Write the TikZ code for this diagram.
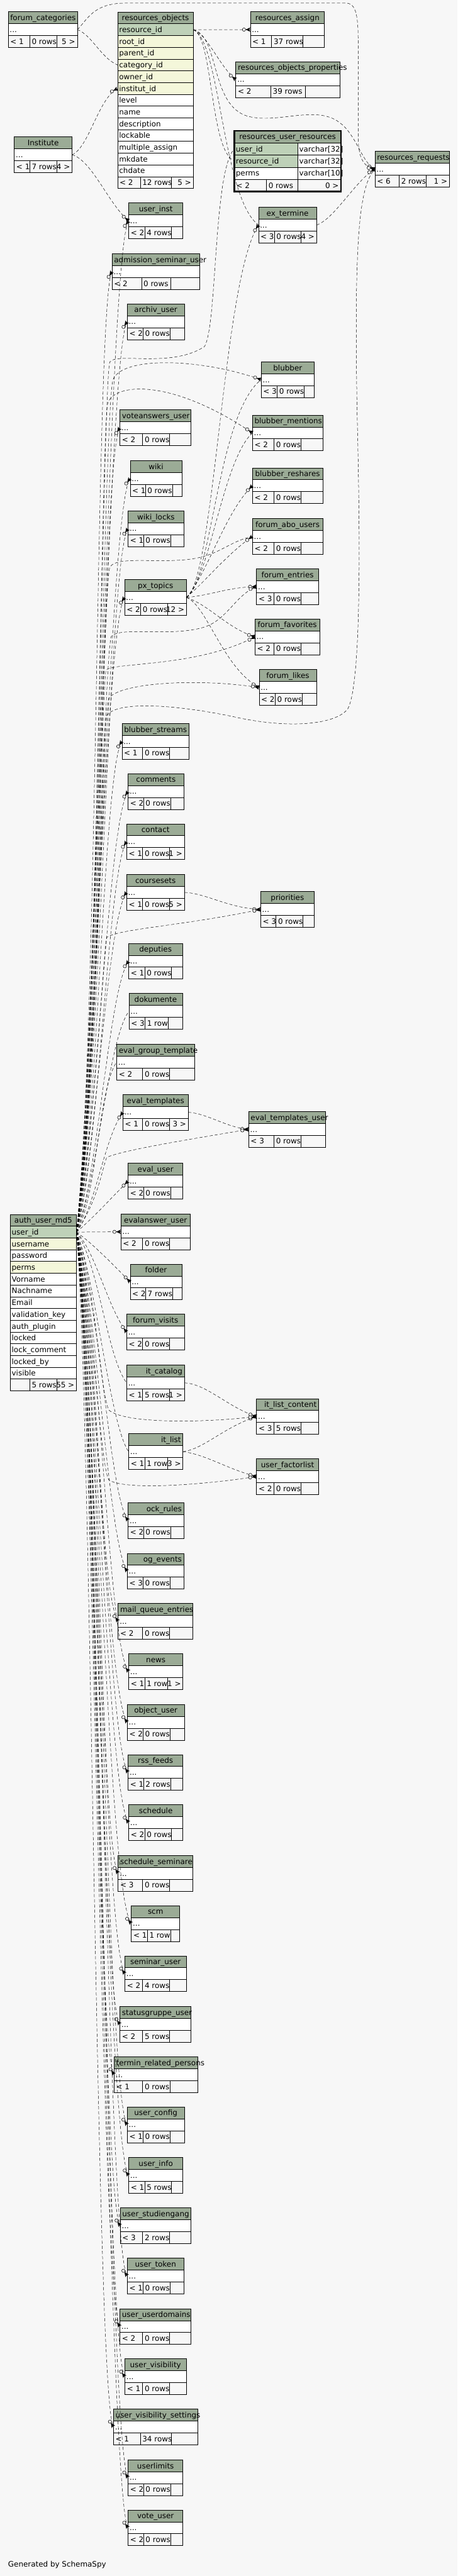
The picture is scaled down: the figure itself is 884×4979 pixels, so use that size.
\documentclass[tikz,border=0pt]{standalone}
\usepackage{fontspec}
\setmainfont{DejaVu Sans}
\usetikzlibrary{decorations.markings}
\definecolor{bgc}{HTML}{F7F7F7}
\definecolor{hdrc}{HTML}{9BAB96}
\definecolor{pkc}{HTML}{BED1B8}
\definecolor{fkc}{HTML}{F4F7DA}
\newcommand\tfont{\fontsize{14.5}{17}\selectfont}
\newcommand\crowmark{%
  \fill[solid] (-9,0) -- (0,4.2) -- (-2,0) -- (0,-4.2) -- cycle;
  \draw[solid, line width=0.6pt] (-9,0) -- (0,0);
  \draw[solid, line width=0.7pt, fill=bgc] (-12.3,0) circle (3.2);}
\tikzset{
  ft/.style={font=\tfont, inner sep=0pt, outer sep=0pt, text height=10.6pt, text depth=0pt},
  tbox/.style={draw, line width=0.9pt, rectangle, inner sep=0pt, outer sep=0pt, anchor=north west, minimum height=69pt},
  rowbox/.style={draw, line width=0.9pt, rectangle, inner sep=0pt, outer sep=0pt, anchor=north west},
  tline/.style={line width=0.9pt},
  rel/.style={line width=0.6pt, dash pattern=on 6pt off 4pt,
    postaction={decorate, decoration={markings, mark=at position 1 with {\crowmark}}}},
}
% compact table: name, x1, x2, ytop, title, div1, div2, {left}{mid}{right}
\newcommand\ctab[8]{%
  \fill[hdrc] (#2,{-(#4)}) rectangle (#3,{-(#4)-23});
  \fill[white] (#2,{-(#4)-23}) rectangle (#3,{-(#4)-46});
  \draw[tline] (#2,{-(#4)-23}) -- (#3,{-(#4)-23});
  \draw[tline] (#2,{-(#4)-46}) -- (#3,{-(#4)-46});
  \draw[tline] (#6,{-(#4)-46}) -- (#6,{-(#4)-69});
  \draw[tline] (#7,{-(#4)-46}) -- (#7,{-(#4)-69});
  \node[tbox, minimum width=#3-#2] (#1) at (#2,{-(#4)}) {};
  \node[ft, anchor=west] at (#2,{-(#4)-11.5}) {\hbox to \dimexpr#3pt-#2pt\relax{\hskip 4pt plus 1fil #5\hskip 4pt plus 1fil}};
  \node[ft, anchor=west] at (#2+3,{-(#4)-34.5}) {...};
  \def\fxa{#2}\def\fxb{#3}\def\fy{#4}\def\fda{#6}%
  \ftr#8%
}
\newcommand\ftr[3]{%
  \node[ft, anchor=west] at (\fxa+4,{-(\fy)-57.5}) {#1};
  \node[ft, anchor=west] at (\fda+4,{-(\fy)-57.5}) {#2};
  \node[ft, anchor=east] at (\fxb-4,{-(\fy)-57.5}) {#3};
}
% full table row: name, x1, x2, ytop, height, fill, text
\newcommand\trow[7]{%
  \node[rowbox, fill=#6, minimum width=#3-#2, minimum height=#5] (#1) at (#2,{-(#4)}) {};
  \node[ft, anchor=west, xshift=3pt] at (#1.west) {#7};}
\newcommand\thead[6]{%
  \node[rowbox, fill=hdrc, minimum width=#3-#2, minimum height=#5] (#1) at (#2,{-(#4)}) {};
  \node[ft, anchor=west] at (#1.west) {\hbox to \dimexpr#3pt-#2pt\relax{\hskip 4pt plus 1fil #6\hskip 4pt plus 1fil}};}
\newcommand\aup[4]{\draw[rel] (auuid.east) .. controls +(#2,#3) and +(-#4,-50) .. (#1.west);}
\newcommand\adn[4]{\draw[rel] (auuid.east) .. controls +(#2,-#3) and +(-#4,50) .. (#1.west);}

\begin{document}
\begin{tikzpicture}[x=1pt,y=1pt]
\fill[bgc] (0,0) rectangle (884,-4979);
\useasboundingbox (0,0) rectangle (884,-4979);

% ---------- resources_objects ----------
\thead{roH}{227.2}{373.3}{23.3}{22.73}{resources\_objects}
\trow{roRid}{227.2}{373.3}{46.03}{22.73}{pkc}{resource\_id}
\trow{roRoot}{227.2}{373.3}{68.76}{22.73}{fkc}{root\_id}
\trow{roPar}{227.2}{373.3}{91.49}{22.73}{fkc}{parent\_id}
\trow{roCat}{227.2}{373.3}{114.22}{22.73}{fkc}{category\_id}
\trow{roOwn}{227.2}{373.3}{136.95}{22.73}{fkc}{owner\_id}
\trow{roInst}{227.2}{373.3}{159.68}{22.73}{fkc}{institut\_id}
\trow{roLev}{227.2}{373.3}{182.41}{22.73}{white}{level}
\trow{roName}{227.2}{373.3}{205.14}{22.73}{white}{name}
\trow{roDesc}{227.2}{373.3}{227.87}{22.73}{white}{description}
\trow{roLock}{227.2}{373.3}{250.6}{22.73}{white}{lockable}
\trow{roMul}{227.2}{373.3}{273.33}{22.73}{white}{multiple\_assign}
\trow{roMk}{227.2}{373.3}{296.06}{22.73}{white}{mkdate}
\trow{roCh}{227.2}{373.3}{318.79}{22.73}{white}{chdate}
\node[rowbox, minimum width=146.1, minimum height=22.73] (roF) at (227.2,-341.52) {};
\draw[tline] (271.2,-341.52) -- (271.2,-364.25);
\draw[tline] (331.5,-341.52) -- (331.5,-364.25);
\node[ft, anchor=west] at (231.2,-352.9) {< 2};
\node[ft, anchor=west] at (275.2,-352.9) {12 rows};
\node[ft, anchor=east] at (369.3,-352.9) {5 >};

% ---------- resources_user_resources ----------
\thead{rurH}{452.7}{658.5}{252.7}{23.5}{resources\_user\_resources}
\trow{rurUid}{452.7}{575.1}{276.2}{23.5}{pkc}{user\_id}
\trow{rurUidT}{575.1}{658.5}{276.2}{23.5}{white}{varchar[32]}
\trow{rurRid}{452.7}{575.1}{299.7}{23.5}{pkc}{resource\_id}
\trow{rurRidT}{575.1}{658.5}{299.7}{23.5}{white}{varchar[32]}
\trow{rurPe}{452.7}{575.1}{323.2}{23.5}{white}{perms}
\trow{rurPeT}{575.1}{658.5}{323.2}{23.5}{white}{varchar[10]}
\node[rowbox, minimum width=205.8, minimum height=23.5] (rurF) at (452.7,-346.7) {};
\draw[tline] (514.8,-346.7) -- (514.8,-370.2);
\draw[tline] (575.1,-346.7) -- (575.1,-370.2);
\node[ft, anchor=west] at (456.7,-358.45) {< 2};
\node[ft, anchor=west] at (518.8,-358.45) {0 rows};
\node[ft, anchor=east] at (654.5,-358.45) {0 >};
\node[draw, line width=2.8pt, inner sep=0pt, outer sep=0pt, anchor=north west, minimum width=205.8, minimum height=117.5] (rur) at (452.7,-252.7) {};

% ---------- auth_user_md5 ----------
\thead{auH}{19.7}{147.7}{2347.3}{22.73}{auth\_user\_md5}
\trow{auuid}{19.7}{147.7}{2370.03}{22.73}{pkc}{user\_id}
\trow{auUn}{19.7}{147.7}{2392.76}{22.73}{fkc}{username}
\trow{auPw}{19.7}{147.7}{2415.49}{22.73}{white}{password}
\trow{auPe}{19.7}{147.7}{2438.22}{22.73}{fkc}{perms}
\trow{auVn}{19.7}{147.7}{2460.95}{22.73}{white}{Vorname}
\trow{auNn}{19.7}{147.7}{2483.68}{22.73}{white}{Nachname}
\trow{auEm}{19.7}{147.7}{2506.41}{22.73}{white}{Email}
\trow{auVk}{19.7}{147.7}{2529.14}{22.73}{white}{validation\_key}
\trow{auAp}{19.7}{147.7}{2551.87}{22.73}{white}{auth\_plugin}
\trow{auLo}{19.7}{147.7}{2574.6}{22.73}{white}{locked}
\trow{auLc}{19.7}{147.7}{2597.33}{22.73}{white}{lock\_comment}
\trow{auLb}{19.7}{147.7}{2620.06}{22.73}{white}{locked\_by}
\trow{auVi}{19.7}{147.7}{2642.79}{22.73}{white}{visible}
\node[rowbox, minimum width=128, minimum height=22.73] (auF) at (19.7,-2665.52) {};
\draw[tline] (57.5,-2665.52) -- (57.5,-2688.25);
\draw[tline] (109.4,-2665.52) -- (109.4,-2688.25);
\node[ft, anchor=west] at (61.5,-2676.9) {5 rows};
\node[ft, anchor=east] at (143.7,-2676.9) {55 >};

% ---------- compact tables ----------
\ctab{forumcat}{15.8}{149.4}{22.7}{forum\_categories}{57.5}{109.4}{{< 1}{0 rows}{5 >}}
\ctab{resassign}{483.7}{627}{22.7}{resources\_assign}{524.9}{585.2}{{< 1}{37 rows}{}}
\ctab{resobjprop}{455.6}{656.3}{119.3}{resources\_objects\_properties}{523.2}{589.7}{{< 2}{39 rows}{}}
\ctab{institute}{27.6}{139.3}{264.7}{Institute}{57.5}{109.4}{{< 1}{7 rows}{4 >}}
\ctab{resreq}{724.5}{868.3}{292.7}{resources\_requests}{771.3}{823.7}{{< 6}{2 rows}{1 >}}
\ctab{userinst}{248.6}{353.5}{392.3}{user\_inst}{279.6}{331.5}{{< 2}{4 rows}{}}
\ctab{extermine}{499.5}{611.7}{400.3}{ex\_termine}{530}{581.3}{{< 3}{0 rows}{4 >}}
\ctab{admsem}{216.5}{385.6}{490.3}{admission\_seminar\_user}{273.4}{329.3}{{< 2}{0 rows}{}}
\ctab{archiv}{245.8}{356.3}{587.3}{archiv\_user}{276.3}{328.7}{{< 2}{0 rows}{}}
\ctab{blubber}{504.6}{607.2}{699.3}{blubber}{535.6}{587.5}{{< 3}{0 rows}{}}
\ctab{voteans}{231.7}{369.3}{792.3}{voteanswers\_user}{275.7}{327.6}{{< 2}{0 rows}{}}
\ctab{blubment}{487.7}{623.6}{802.3}{blubber\_mentions}{529.4}{581.3}{{< 2}{0 rows}{}}
\ctab{wiki}{251.5}{351.3}{890.3}{wiki}{280.8}{333.8}{{< 1}{0 rows}{}}
\ctab{blubresh}{487.7}{623.6}{904.3}{blubber\_reshares}{529.4}{581.3}{{< 2}{0 rows}{}}
\ctab{wikilocks}{247.5}{355.2}{987.3}{wiki\_locks}{277.4}{329.8}{{< 1}{0 rows}{}}
\ctab{forumabo}{487.7}{623.6}{1002.3}{forum\_abo\_users}{529.4}{581.3}{{< 2}{0 rows}{}}
\ctab{forumentries}{495.6}{615.7}{1099.3}{forum\_entries}{529.4}{581.3}{{< 3}{0 rows}{}}
\ctab{pxtopics}{240.7}{360.3}{1120.3}{px\_topics}{271.8}{323.6}{{< 2}{0 rows}{12 >}}
\ctab{forumfav}{492.8}{617.4}{1196.3}{forum\_favorites}{529.4}{581.3}{{< 2}{0 rows}{}}
\ctab{forumlikes}{500.7}{611.7}{1294.3}{forum\_likes}{531.7}{583.5}{{< 2}{0 rows}{}}
\ctab{blubstreams}{235.7}{365.3}{1398.3}{blubber\_streams}{275.7}{327.6}{{< 1}{0 rows}{}}
\ctab{comments}{247.5}{355.2}{1495.3}{comments}{277.4}{329.3}{{< 2}{0 rows}{}}
\ctab{contact}{244.7}{356.3}{1592.3}{contact}{275.7}{327.6}{{< 1}{0 rows}{1 >}}
\ctab{coursesets}{244.7}{356.3}{1690.3}{coursesets}{275.7}{327.6}{{< 1}{0 rows}{5 >}}
\ctab{priorities}{503.5}{607.2}{1723.3}{priorities}{533.4}{585.2}{{< 3}{0 rows}{}}
\ctab{deputies}{248.6}{352.4}{1823.3}{deputies}{279.6}{331.5}{{< 1}{0 rows}{}}
\ctab{dokumente}{249.2}{352.4}{1920.3}{dokumente}{280.2}{325.3}{{< 3}{1 row}{}}
\ctab{evalgroup}{225.5}{375.5}{2018.3}{eval\_group\_template}{275.7}{327.6}{{< 2}{0 rows}{}}
\ctab{evaltpl}{237.4}{363.7}{2115.3}{eval\_templates}{275.7}{327.6}{{< 1}{0 rows}{3 >}}
\ctab{evaltpluser}{480.4}{629.2}{2148.3}{eval\_templates\_user}{529.4}{581.3}{{< 3}{0 rows}{}}
\ctab{evaluser}{247.5}{353.5}{2248.3}{eval\_user}{277.4}{329.3}{{< 2}{0 rows}{}}
\ctab{evalans}{233.4}{367.6}{2346.3}{evalanswer\_user}{275.7}{327.6}{{< 2}{0 rows}{}}
\ctab{folder}{251.5}{351.3}{2443.3}{folder}{281.3}{333.8}{{< 2}{7 rows}{}}
\ctab{forumvisits}{244.7}{356.3}{2540.3}{forum\_visits}{275.7}{327.6}{{< 2}{0 rows}{}}
\ctab{litcat}{244.7}{356.3}{2638.3}{lit\_catalog}{275.7}{327.6}{{< 1}{5 rows}{1 >}}
\ctab{litlistcontent}{495.6}{615.7}{2703.3}{lit\_list\_content}{529.4}{581.3}{{< 3}{5 rows}{}}
\ctab{litlist}{248.6}{353.5}{2771.3}{lit\_list}{279.6}{324.2}{{< 1}{1 row}{3 >}}
\ctab{userfactor}{495.6}{615.7}{2819.3}{user\_factorlist}{529.4}{581.3}{{< 2}{0 rows}{}}
\ctab{lockrules}{247.5}{355.2}{2904.3}{lock\_rules}{277.4}{329.3}{{< 2}{0 rows}{}}
\ctab{logevents}{245.8}{355.2}{3002.3}{log\_events}{276.3}{328.7}{{< 3}{0 rows}{}}
\ctab{mailq}{228.3}{372.7}{3099.3}{mail\_queue\_entries}{275.7}{327.6}{{< 2}{0 rows}{}}
\ctab{news}{248.6}{353.5}{3196.3}{news}{279.6}{324.2}{{< 1}{1 row}{1 >}}
\ctab{objuser}{245.8}{356.3}{3294.3}{object\_user}{276.3}{328.7}{{< 2}{0 rows}{}}
\ctab{rss}{247.5}{353.5}{3391.3}{rss\_feeds}{277.4}{329.3}{{< 1}{2 rows}{}}
\ctab{schedule}{248.6}{353.5}{3488.3}{schedule}{279.6}{331.5}{{< 2}{0 rows}{}}
\ctab{schedsem}{228.3}{372.7}{3586.3}{schedule\_seminare}{275.7}{327.6}{{< 3}{0 rows}{}}
\ctab{scm}{253.7}{347.3}{3683.3}{scm}{284.7}{329.8}{{< 1}{1 row}{}}
\ctab{seminaruser}{241.3}{359.7}{3780.3}{seminar\_user}{275.7}{327.6}{{< 2}{4 rows}{}}
\ctab{statusgr}{231.7}{369.3}{3878.3}{statusgruppe\_user}{275.7}{327.6}{{< 2}{5 rows}{}}
\ctab{terminrel}{220.4}{381.7}{3975.3}{termin\_related\_persons}{275.7}{328.7}{{< 1}{0 rows}{}}
\ctab{userconfig}{245.8}{356.3}{4072.3}{user\_config}{276.3}{328.7}{{< 1}{0 rows}{}}
\ctab{userinfo}{248.6}{353.5}{4170.3}{user\_info}{279.6}{331.5}{{< 1}{5 rows}{}}
\ctab{userstud}{232.3}{368.7}{4267.3}{user\_studiengang}{275.7}{327.6}{{< 3}{2 rows}{}}
\ctab{usertoken}{245.8}{355.2}{4364.3}{user\_token}{276.3}{328.7}{{< 1}{0 rows}{}}
\ctab{userdomains}{231.7}{369.3}{4462.3}{user\_userdomains}{275.7}{327.6}{{< 2}{0 rows}{}}
\ctab{uservis}{241.3}{359.7}{4559.3}{user\_visibility}{275.7}{327.6}{{< 1}{0 rows}{}}
\ctab{uservisset}{219.3}{381.7}{4656.3}{user\_visibility\_settings}{271.2}{331.5}{{< 1}{34 rows}{}}
\ctab{userlimits}{247.5}{353.5}{4754.3}{userlimits}{277.4}{329.3}{{< 2}{0 rows}{}}
\ctab{voteuser}{247.5}{353.5}{4851.3}{vote\_user}{277.4}{329.3}{{< 2}{0 rows}{}}

\node[ft, anchor=west] (gen) at (15.8,-4956) {Generated by SchemaSpy};

% ---------- connectors: resources ----------
\draw[rel] (roRid.east) -- (resassign.west);
\draw[rel] (roRid.east) .. controls (400,-65) and (425,-130) .. (resobjprop.west);
\draw[rel] (roRid.east) .. controls (412,-70) and (405,-290) .. (rurRid.west);
\draw[rel] (roRid.east) .. controls (425,-75) and (430,-385) .. (extermine.west);
\draw[rel] (roRid.east) .. controls (425,-70) and (405,-205) .. (480,-225) .. controls (540,-240) and (615,-200) .. (660,-240) .. controls (690,-265) and (700,-315) .. (resreq.west);
\draw[rel] (forumcat.east) .. controls (178,-68) and (195,-112) .. (roCat.west);
\draw[rel] (forumcat.east) .. controls (168,-40) and (178,-7) .. (240,-6) -- (668,-6) .. controls (688,-6) and (692,-30) .. (692,-80) -- (692,-262) .. controls (692,-302) and (700,-322) .. (resreq.west);
\draw[rel] (institute.east) .. controls (172,-285) and (190,-190) .. (roInst.west);
\draw[rel] (institute.east) .. controls (178,-310) and (210,-395) .. (userinst.west);
\draw[rel] (extermine.east) .. controls (645,-425) and (690,-345) .. (resreq.west);

% ---------- connectors: px_topics ----------
\draw[rel] (pxtopics.east) .. controls (415,-1120) and (430,-540) .. (extermine.west);
\draw[rel] (pxtopics.east) .. controls (410,-1120) and (420,-800) .. (blubber.west);
\draw[rel] (pxtopics.east) .. controls (405,-1120) and (430,-890) .. (blubment.west);
\draw[rel] (pxtopics.east) .. controls (400,-1110) and (435,-990) .. (blubresh.west);
\draw[rel] (pxtopics.east) .. controls (400,-1120) and (440,-1070) .. (forumabo.west);
\draw[rel] (pxtopics.east) .. controls (410,-1150) and (440,-1135) .. (forumentries.west);
\draw[rel] (pxtopics.east) .. controls (405,-1170) and (440,-1215) .. (forumfav.west);
\draw[rel] (pxtopics.east) .. controls (400,-1170) and (430,-1290) .. (forumlikes.west);

% ---------- connectors: other parents ----------
\draw[rel] (coursesets.east) .. controls (400,-1727) and (440,-1755) .. (priorities.west);
\draw[rel] (evaltpl.east) .. controls (400,-2152) and (440,-2180) .. (evaltpluser.west);
\draw[rel] (litcat.east) .. controls (400,-2675) and (440,-2720) .. (litlistcontent.west);
\draw[rel] (litlist.east) .. controls (395,-2800) and (430,-2760) .. (litlistcontent.west);
\draw[rel] (litlist.east) .. controls (400,-2812) and (440,-2840) .. (userfactor.west);

% ---------- connectors: auth_user_md5 to right column ----------
\draw[rel] (auuid.east) .. controls +(40,300) and (198,-760) .. (212,-700) .. controls (225,-680) and (330,-712) .. (395,-670) .. controls (420,-630) and (412,-330) .. (rurUid.west);
\draw[rel] (auuid.east) .. controls +(40,300) and (200,-820) .. (218,-735) .. controls (232,-690) and (380,-690) .. (blubber.west);
\draw[rel] (auuid.east) .. controls +(40,300) and (195,-860) .. (208,-780) .. controls (220,-740) and (330,-730) .. (blubment.west);
\draw[rel] (auuid.east) .. controls +(40,300) and (198,-1150) .. (212,-1097) .. controls (225,-1070) and (330,-1095) .. (395,-1075) .. controls (430,-1065) and (450,-1045) .. (forumabo.west);
\draw[rel] (auuid.east) .. controls +(40,280) and (200,-1280) .. (215,-1230) .. controls (235,-1210) and (330,-1232) .. (395,-1212) .. controls (440,-1197) and (455,-1150) .. (forumentries.west);
\draw[rel] (auuid.east) .. controls +(40,250) and (195,-1340) .. (205,-1295) .. controls (220,-1280) and (380,-1290) .. (forumfav.west);
\draw[rel] (auuid.east) .. controls +(40,250) and (198,-1400) .. (210,-1350) .. controls (230,-1320) and (380,-1310) .. (forumlikes.west);
\draw[rel] (auuid.east) .. controls +(40,300) and (195,-1430) .. (205,-1385) .. controls (220,-1355) and (330,-1360) .. (450,-1385) .. controls (560,-1410) and (650,-1400) .. (672,-1370) .. controls (700,-1320) and (695,-1000) .. (690,-800) .. controls (685,-500) and (690,-360) .. (resreq.west);
\draw[rel] (auuid.east) .. controls +(40,250) and (198,-1860) .. (206,-1812) .. controls (230,-1795) and (350,-1790) .. (priorities.west);
\draw[rel] (auuid.east) .. controls +(40,60) and (195,-2270) .. (206,-2237) .. controls (240,-2222) and (380,-2200) .. (evaltpluser.west);
\draw[rel] (auuid.east) .. controls +(40,-150) and (195,-2690) .. (210,-2725) .. controls (235,-2750) and (380,-2752) .. (litlistcontent.west);
\draw[rel] (auuid.east) .. controls +(40,-250) and (195,-2830) .. (210,-2860) .. controls (235,-2880) and (380,-2872) .. (userfactor.west);

% ---------- connectors: auth_user_md5 to left column ----------
\aup{userinst}{38}{350}{38}
\aup{admsem}{42}{350}{32}
\aup{archiv}{36}{340}{36}
\aup{voteans}{44}{300}{35}
\aup{wiki}{40}{280}{40}
\aup{wikilocks}{46}{260}{38}
\aup{pxtopics}{34}{240}{36}
\aup{blubstreams}{42}{190}{36}
\aup{comments}{38}{170}{38}
\aup{contact}{44}{150}{36}
\aup{coursesets}{36}{130}{38}
\aup{deputies}{42}{105}{38}
\aup{dokumente}{38}{85}{40}
\aup{evalgroup}{40}{66}{36}
\aup{evaltpl}{36}{46}{36}
\draw[rel] (auuid.east) .. controls +(35,30) and +(-30,-30) .. (evaluser.west);
\draw[rel] (auuid.east) -- (evalans.west);
\draw[rel] (auuid.east) .. controls +(35,-25) and +(-30,30) .. (folder.west);
\adn{forumvisits}{38}{40}{38}
\adn{litcat}{42}{58}{38}
\adn{litlist}{36}{85}{36}
\adn{lockrules}{44}{110}{38}
\adn{logevents}{38}{130}{36}
\adn{mailq}{40}{150}{36}
\adn{news}{46}{170}{40}
\adn{objuser}{36}{190}{38}
\adn{rss}{42}{210}{38}
\adn{schedule}{38}{230}{40}
\adn{schedsem}{44}{250}{34}
\adn{scm}{40}{265}{44}
\adn{seminaruser}{36}{285}{38}
\adn{statusgr}{42}{305}{36}
\adn{terminrel}{38}{325}{34}
\adn{userconfig}{44}{345}{38}
\adn{userinfo}{36}{350}{40}
\adn{userstud}{40}{350}{36}
\adn{usertoken}{46}{350}{38}
\adn{userdomains}{34}{350}{36}
\adn{uservis}{42}{350}{38}
\adn{uservisset}{30}{350}{34}
\adn{userlimits}{40}{350}{38}
\adn{voteuser}{36}{350}{38}
\end{tikzpicture}
\end{document}
